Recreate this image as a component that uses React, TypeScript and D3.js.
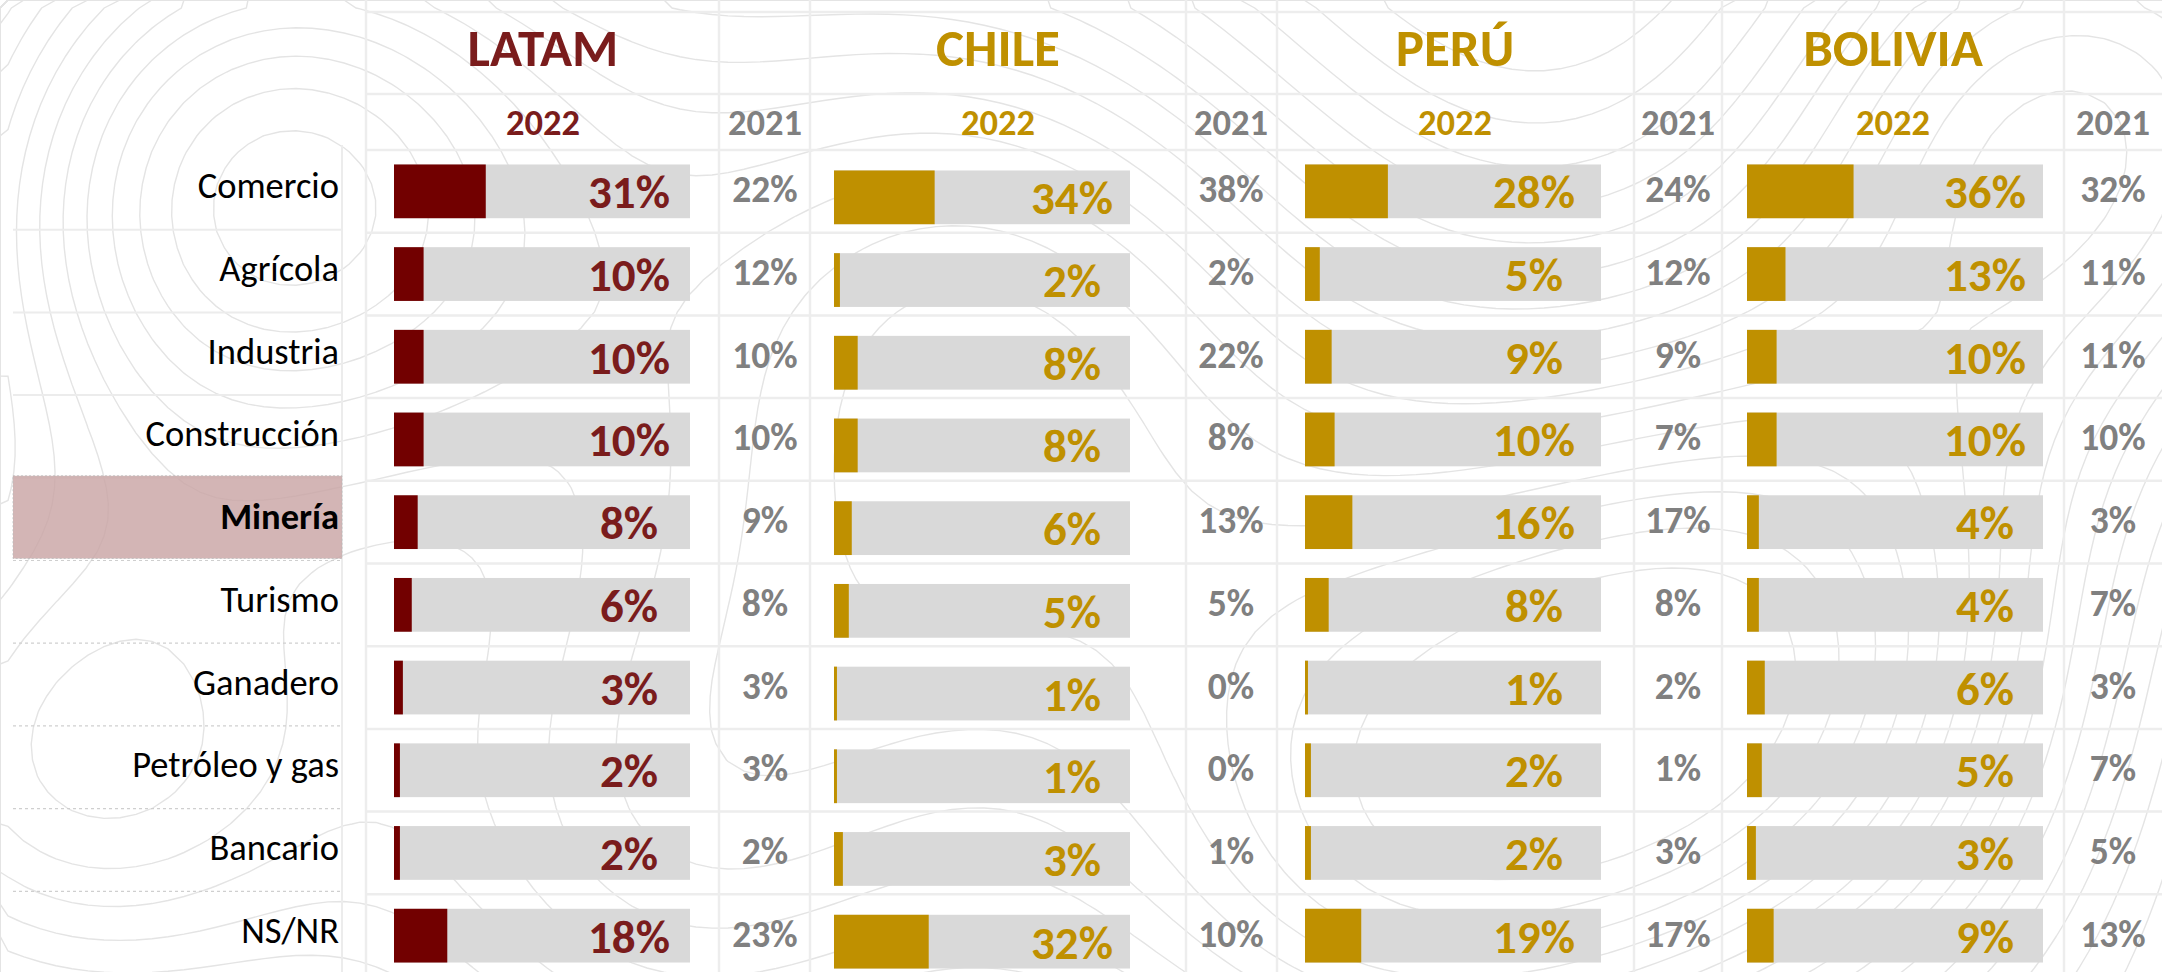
import { useEffect, useRef } from "react";
import * as d3 from "d3";

const categories = [
  "Comercio",
  "Agrícola",
  "Industria",
  "Construcción",
  "Minería",
  "Turismo",
  "Ganadero",
  "Petróleo y gas",
  "Bancario",
  "NS/NR",
];
const regions = ["LATAM", "CHILE", "PERÚ", "BOLIVIA"];
const yearNow = "2022";
const yearPrev = "2021";
const highlighted = "Minería";

const latam2022 = [31, 10, 10, 10, 8, 6, 3, 2, 2, 18];
const latam2021 = [22, 12, 10, 10, 9, 8, 3, 3, 2, 23];
const chile2022 = [34, 2, 8, 8, 6, 5, 1, 1, 3, 32];
const chile2021 = [38, 2, 22, 8, 13, 5, 0, 0, 1, 10];
const peru2022 = [28, 5, 9, 10, 16, 8, 1, 2, 2, 19];
const peru2021 = [24, 12, 9, 7, 17, 8, 2, 1, 3, 17];
const bolivia2022 = [36, 13, 10, 10, 4, 4, 6, 5, 3, 9];
const bolivia2021 = [32, 11, 11, 10, 3, 7, 3, 7, 5, 13];

const now = [latam2022, chile2022, peru2022, bolivia2022];
const prev = [latam2021, chile2021, peru2021, bolivia2021];

const W = 2162;
const H = 972;
const FONT = "Carlito, Lato, 'Open Sans', sans-serif";
const RED = "#7a1c1c";
const GOLD = "#bf9000";
const GREY = "#808080";

// hand placed panels (slide layout)
const panelPos = [
  { title: 543, bar: 394, label: 629, prev: 765, dy: 0, text: RED, fill: "#720000" },
  { title: 998, bar: 834, label: 1072, prev: 1231, dy: 6, text: GOLD, fill: GOLD },
  { title: 1455, bar: 1305, label: 1534, prev: 1678, dy: 0, text: GOLD, fill: GOLD },
  { title: 1893, bar: 1747, label: 1985, prev: 2113, dy: 0, text: GOLD, fill: GOLD },
];
const vLines = [366, 719, 810, 1186, 1277, 1634, 1722, 2064];

function App() {
  const svgRef = useRef(null);

  useEffect(() => {
    document.body.style.margin = "0";
    const svg = d3.select(svgRef.current);
    svg.selectAll("*").remove();

    // --- faint topographic background
    const cell = 16;
    const nx = Math.ceil(W / cell) + 1;
    const ny = Math.ceil(H / cell) + 1;
    const bumps = [
      [250, 200, 230, 1],
      [1000, 330, 300, 0.9],
      [1750, 650, 280, 1],
      [650, 820, 260, 0.8],
      [2050, 120, 220, 0.7],
      [1350, 900, 240, 0.6],
      [80, 760, 200, 0.7],
    ];
    const field = new Array(nx * ny);
    for (let j = 0; j < ny; j++) {
      for (let i = 0; i < nx; i++) {
        const x = i * cell;
        const y = j * cell;
        let v = 0.15 * Math.sin(x / 310) * Math.cos(y / 240);
        bumps.forEach(([cx, cy, s, a]) => {
          v += a * Math.exp(-((x - cx) ** 2 + (y - cy) ** 2) / (2 * s * s));
        });
        field[j * nx + i] = v;
      }
    }
    const contours = d3.contours().size([nx, ny]).thresholds(d3.range(-0.1, 1.2, 0.07))(field);
    svg
      .append("g")
      .attr("transform", `scale(${cell})`)
      .selectAll("path")
      .data(contours)
      .join("path")
      .attr("d", d3.geoPath())
      .attr("fill", "none")
      .attr("stroke", "#e4e4e4")
      .attr("stroke-width", 1.4 / cell);

    // --- rows
    const y = d3
      .scaleBand()
      .domain(categories)
      .range([150, 150 + 82.7 * categories.length])
      .paddingInner(0.35)
      .paddingOuter(0.175);
    const step = y.step();
    const bandTop = (c) => y(c) - (step - y.bandwidth()) / 2;

    // grid
    const grid = svg.append("g").attr("stroke", "#ededed").attr("stroke-width", 2.5);
    const hLines = [12, 94, ...categories.map(bandTop)];
    hLines.forEach((yy) =>
      grid.append("line").attr("x1", 366).attr("x2", W).attr("y1", yy).attr("y2", yy)
    );
    vLines.forEach((xx) =>
      grid.append("line").attr("x1", xx).attr("x2", xx).attr("y1", 0).attr("y2", H)
    );

    // left label column separators
    const left = svg.append("g");
    categories.slice(1).forEach((c, i) => {
      const yy = bandTop(c) - 3;
      left
        .append("line")
        .attr("x1", 13)
        .attr("x2", 342)
        .attr("y1", yy)
        .attr("y2", yy)
        .attr("stroke", i >= 4 ? "#cfcfcf" : "#ececec")
        .attr("stroke-width", i >= 4 ? 1.2 : 2)
        .attr("stroke-dasharray", i >= 4 ? "3 3" : null);
    });
    left
      .append("line")
      .attr("x1", 342)
      .attr("x2", 342)
      .attr("y1", 145)
      .attr("y2", H)
      .attr("stroke", "#ececec")
      .attr("stroke-width", 2);

    // highlight
    const hy = bandTop(highlighted);
    left
      .append("rect")
      .attr("x", 13)
      .attr("y", hy - 5)
      .attr("width", 329)
      .attr("height", step)
      .attr("fill", "#c9a5a5")
      .attr("fill-opacity", 0.82)
      .attr("stroke", "#bbbbbb")
      .attr("stroke-dasharray", "2 2")
      .attr("stroke-width", 0.8);

    left
      .selectAll("text.cat")
      .data(categories)
      .join("text")
      .attr("class", "cat")
      .attr("x", 339)
      .attr("y", (c) => y(c) + y.bandwidth() / 2 + 7)
      .attr("text-anchor", "end")
      .attr("font-family", FONT)
      .attr("font-size", 36.5)
      .attr("font-weight", (c) => (c === highlighted ? 700 : 400))
      .attr("fill", "#000")
      .text((c) => c);

    // --- panels
    regions.forEach((region, p) => {
      const pos = panelPos[p];
      const g = svg.append("g");
      const x = d3.scaleLinear().domain([0, 100]).range([pos.bar, pos.bar + 296]);

      g.append("text")
        .attr("x", pos.title)
        .attr("y", 66)
        .attr("text-anchor", "middle")
        .attr("font-family", FONT)
        .attr("font-size", 53)
        .attr("font-weight", 700)
        .attr("fill", pos.text)
        .text(region);
      g.append("text")
        .attr("x", pos.title)
        .attr("y", 135)
        .attr("text-anchor", "middle")
        .attr("font-family", FONT)
        .attr("font-size", 36.5)
        .attr("font-weight", 700)
        .attr("fill", pos.text)
        .text(yearNow);
      g.append("text")
        .attr("x", pos.prev)
        .attr("y", 135)
        .attr("text-anchor", "middle")
        .attr("font-family", FONT)
        .attr("font-size", 36.5)
        .attr("font-weight", 700)
        .attr("fill", GREY)
        .text(yearPrev);

      const rows = categories.map((c, i) => ({ c, v: now[p][i], pv: prev[p][i] }));

      g.selectAll("rect.bg")
        .data(rows)
        .join("rect")
        .attr("class", "bg")
        .attr("x", x(0))
        .attr("y", (d) => y(d.c) + pos.dy)
        .attr("width", x(100) - x(0))
        .attr("height", y.bandwidth())
        .attr("fill", "#d9d9d9");
      g.selectAll("rect.val")
        .data(rows)
        .join("rect")
        .attr("class", "val")
        .attr("x", x(0))
        .attr("y", (d) => y(d.c) + pos.dy)
        .attr("width", (d) => Math.max(x(d.v) - x(0), 2))
        .attr("height", y.bandwidth())
        .attr("fill", pos.fill);
      g.selectAll("text.val")
        .data(rows)
        .join("text")
        .attr("class", "val")
        .attr("x", pos.label)
        .attr("y", (d) => y(d.c) + y.bandwidth() / 2 + pos.dy + 17)
        .attr("text-anchor", "middle")
        .attr("font-family", FONT)
        .attr("font-size", 47)
        .attr("font-weight", 700)
        .attr("fill", pos.text)
        .text((d) => `${d.v}%`);
      g.selectAll("text.prev")
        .data(rows)
        .join("text")
        .attr("class", "prev")
        .attr("x", pos.prev)
        .attr("y", (d) => y(d.c) + y.bandwidth() / 2 + 11)
        .attr("text-anchor", "middle")
        .attr("font-family", FONT)
        .attr("font-size", 37.5)
        .attr("font-weight", 700)
        .attr("fill", GREY)
        .text((d) => `${d.pv}%`);
    });
  }, []);

  return (
    <svg
      ref={svgRef}
      width={W}
      height={H}
      viewBox={`0 0 ${W} ${H}`}
      style={{ display: "block", background: "#fff" }}
    />
  );
}

export default App;
